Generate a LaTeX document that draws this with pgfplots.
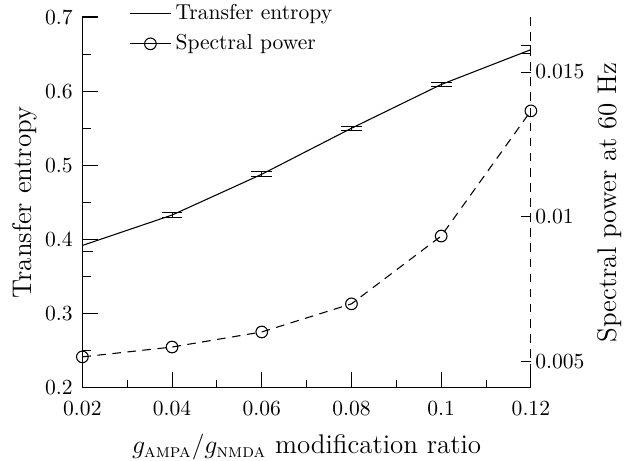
\documentclass[border=0pt]{standalone}
\usepackage{pgfplots}
\pgfplotsset{compat=1.18}
\usepackage{amsmath}

\pgfplotstableread{
x     te     err
0.02  0.392  0.0085
0.04  0.433  0.003
0.06  0.488  0.0035
0.08  0.550  0.003
0.10  0.609  0.003
0.12  0.656  0.005
}\entropy

\pgfplotstableread{
x     sp
0.02  0.00517
0.04  0.00551
0.06  0.00603
0.08  0.00700
0.10  0.00934
0.12  0.01366
}\power

\newcommand{\labelfont}{\fontsize{12.5}{15}\selectfont}

\begin{document}
\begin{tikzpicture}
\begin{axis}[
  scale only axis, width=208pt, height=172pt,
  xmin=0.02, xmax=0.12, ymin=0.2, ymax=0.7,
  axis x line*=bottom, axis y line*=left,
  axis line style={-, black, line width=0.5pt},
  xtick={0.02,0.04,0.06,0.08,0.10,0.12},
  xticklabels={0.02,0.04,0.06,0.08,0.1,0.12},
  ytick={0.2,0.3,0.4,0.5,0.6,0.7},
  yticklabels={0.2,0.3,0.4,0.5,0.6,0.7},
  xticklabel style={yshift=-2.6pt},
  yticklabel style={xshift=-1pt},
  minor x tick num=1, minor y tick num=1,
  tick align=inside, major tick length=7.3pt, minor tick length=3.8pt,
  tick style={black, line width=0.5pt},
  label style={font=\labelfont},
  xlabel={$g_{\text{\textsc{ampa}}}/g_{\text{\textsc{nmda}}}$ modification ratio},
  ylabel={Transfer entropy},
  ylabel style={inner sep=0pt},
  xlabel style={inner sep=0pt, yshift=-5pt},
  legend style={draw=none, fill=none, at={(0.09,1.047)}, anchor=north west,
    inner ysep=0pt, cells={anchor=west}, font=\normalsize, row sep=1.5pt},
  legend image code/.code={
    \draw[mark repeat=2, mark phase=2, #1] plot coordinates {(0cm,0cm) (0.33cm,0cm) (0.66cm,0cm)};},
]
\addplot[black, line width=0.5pt, mark=none,
  error bars/.cd, y dir=both, y explicit,
  error bar style={black, line width=0.5pt},
  error mark options={rotate=90, mark size=4.8pt, black, line width=0.5pt}]
  table[x=x, y=te, y error=err] {\entropy};
\addlegendentry{Transfer entropy}
\addlegendimage{black, line width=0.5pt, mark=o, mark size=2.7pt}
\addlegendentry{Spectral power}
\end{axis}

\begin{axis}[
  scale only axis, width=208pt, height=172pt,
  xmin=0.02, xmax=0.12, ymin=0.0041, ymax=0.0169,
  axis x line=none, axis y line*=right,
  axis line style={-, black, line width=0.5pt, dash pattern=on 4pt off 3pt},
  scaled y ticks=false,
  ytick={0.005,0.01,0.015},
  yticklabels={0.005,0.01,0.015},
  yticklabel style={xshift=-1.5pt},
  tick align=inside, major tick length=4.7pt,
  tick style={black, line width=0.5pt, solid},
  label style={font=\labelfont},
  ylabel={Spectral power at 60 Hz},
  ylabel style={inner sep=2.5pt},
]
\addplot[black, line width=0.5pt, dash pattern=on 4pt off 3pt,
  mark=o, mark size=2.7pt, mark options={solid}]
  table[x=x, y=sp] {\power};
\end{axis}
% a little extra margin on the left
\path (current bounding box.west) ++(-6pt,0pt);
\end{tikzpicture}
\end{document}
